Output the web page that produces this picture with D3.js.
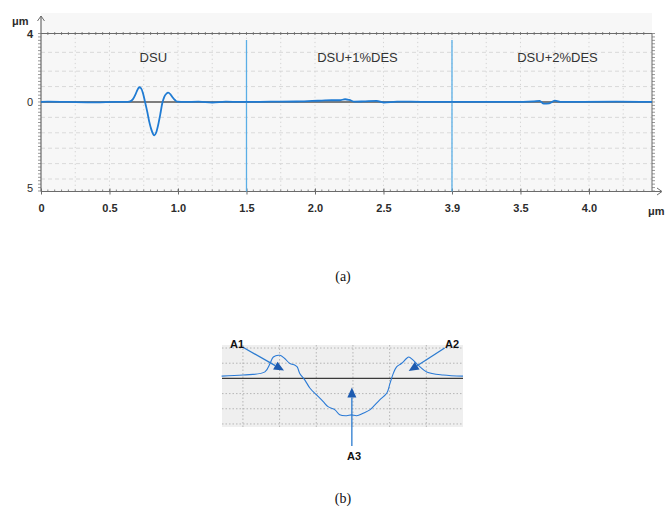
<!DOCTYPE html>
<html>
<head>
<meta charset="utf-8">
<script src="https://cdn.jsdelivr.net/npm/d3@7"></script>
<style>
  html, body { margin: 0; padding: 0; background: #fff; }
  svg { display: block; }
</style>
</head>
<body>
<svg id="fig" width="665" height="513"></svg>
<script>
// ---- (a) surface profile across three coatings ----
const profileX = [0, 0.05, 0.2, 0.4, 0.55, 0.62, 0.645, 0.67, 0.69, 0.705, 0.717, 0.73, 0.745, 0.758, 0.775, 0.79, 0.805, 0.82, 0.828, 0.84, 0.855, 0.87, 0.886, 0.9, 0.915, 0.928, 0.945, 0.96, 0.98, 0.995, 1.05, 1.15, 1.25, 1.35, 1.45, 1.6, 1.75, 1.9, 1.98, 2.05, 2.12, 2.18, 2.22, 2.25, 2.29, 2.35, 2.45, 2.5, 2.6, 2.7, 2.85, 3.0, 3.15, 3.3, 3.45, 3.6, 3.64, 3.67, 3.71, 3.75, 3.8, 3.95, 4.2, 4.46];
const profileY = [0, 0.02, 0, -0.02, 0, 0, 0.02, 0.15, 0.45, 0.72, 0.86, 0.8, 0.5, 0.05, -0.55, -1.15, -1.6, -1.9, -1.95, -1.8, -1.35, -0.75, -0.05, 0.3, 0.48, 0.55, 0.45, 0.28, 0.1, 0.02, 0, 0.02, -0.03, 0.02, 0, 0.01, 0.02, 0.03, 0.06, 0.08, 0.1, 0.1, 0.16, 0.12, 0.02, 0.03, 0.06, -0.03, 0.02, 0.02, 0, 0, 0.01, 0, 0, 0.04, 0.06, -0.1, -0.08, 0.08, 0, 0.01, 0.02, 0];

const xTickValues = [0, 0.5, 1.0, 1.5, 2.0, 2.5, 3.0, 3.5, 4.0];
const xTickLabels = ["0", "0.5", "1.0", "1.5", "2.0", "2.5", "3.9", "3.5", "4.0"];
const yTickValues = [4, 0, -5];
const yTickLabels = ["4", "0", "5"];
const yGridValues = [2.9, 1.8, 0.9, -0.9, -1.8, -2.7, -3.6, -4.5];
const sectionBounds = [1.5, 3.0];
const sectionNames = ["DSU", "DSU+1%DES", "DSU+2%DES"];
const sectionCenters = [0.82, 2.31, 3.77];

// ---- (b) crater cross-section ----
const craterX = [-0.58, 0.01, 0.6, 0.74, 0.83, 1.01, 1.14, 1.28, 1.42, 1.48, 1.55, 1.69, 1.83, 2.01, 2.19, 2.32, 2.51, 2.64, 2.83, 2.96, 3.1, 3.28, 3.46, 3.6, 3.73, 3.92, 4.01, 4.1, 4.19, 4.32, 4.46, 4.52, 4.64, 4.78, 5.01, 5.46, 6.0];
const craterY = [0.15, 0.22, 0.43, 0.98, 1.41, 1.52, 1.31, 0.98, 0.87, 0.76, 0.33, -0.11, -0.65, -1.09, -1.53, -1.86, -2.07, -2.4, -2.46, -2.4, -2.46, -2.29, -2.07, -1.74, -1.41, -0.98, -0.33, 0.33, 0.76, 0.98, 1.31, 1.41, 1.2, 0.87, 0.43, 0.22, 0.15];
const bGridX = [0, 1, 2, 3, 4, 5];
const bGridY = [2, 1, -1, -2, -3];
const markerNames = ["A1", "A2", "A3"];
const markerTails = [[0.0, 2.05], [5.5, 2.0], [2.97, -4.45]];
const markerTips = [[1.12, 0.52], [4.52, 0.48], [2.97, -0.6]];
const captions = ["(a)", "(b)"];

const svg = d3.select("#fig");
const LINE_BLUE = "#1f7bd3";
const AXIS = "#6b6b6b";
const sans = "'Liberation Sans', Arial, sans-serif";
const serif = "'Liberation Serif', 'Times New Roman', serif";

// ================= panel (a) =================
const x = d3.scaleLinear().domain([0, 4.46]).range([41, 652]);
const y = d3.scaleLinear().domain([-5.23, 4]).range([191.5, 33.5]);
const pa = svg.append("g");

pa.append("rect")
  .attr("x", x(0)).attr("y", 13)
  .attr("width", x(4.46) - x(0)).attr("height", y(-5.23) - 13)
  .attr("fill", "#f7f7f7");

// dotted vertical grid every quarter unit
pa.append("g").selectAll("line")
  .data(d3.range(0.25, 4.46, 0.25))
  .join("line")
  .attr("x1", d => x(d)).attr("x2", d => x(d))
  .attr("y1", y(4)).attr("y2", y(-5.23))
  .attr("stroke", "#c9c9c9").attr("stroke-width", 0.8)
  .attr("stroke-dasharray", "1.2,3");

// dashed horizontal grid
pa.append("g").selectAll("line")
  .data(yGridValues)
  .join("line")
  .attr("x1", x(0)).attr("x2", x(4.46))
  .attr("y1", d => y(d)).attr("y2", d => y(d))
  .attr("stroke", "#d2d2d2").attr("stroke-width", 0.8)
  .attr("stroke-dasharray", "4,3");

// frame: top border, right border
pa.append("line").attr("x1", x(0)).attr("x2", x(4.46)).attr("y1", y(4)).attr("y2", y(4))
  .attr("stroke", AXIS).attr("stroke-width", 1.2);
pa.append("line").attr("x1", x(4.46)).attr("x2", x(4.46)).attr("y1", y(4)).attr("y2", y(-5.23))
  .attr("stroke", AXIS).attr("stroke-width", 1);

// minor ticks along top and bottom edges
const minorX = d3.range(0.05, 4.45, 0.05);
pa.append("g").selectAll("line").data(minorX).join("line")
  .attr("x1", d => x(d)).attr("x2", d => x(d))
  .attr("y1", y(4) - 1.5).attr("y2", y(4) + 1.5)
  .attr("stroke", AXIS).attr("stroke-width", 0.8);
pa.append("g").selectAll("line").data(minorX).join("line")
  .attr("x1", d => x(d)).attr("x2", d => x(d))
  .attr("y1", y(-5.23) - 2).attr("y2", y(-5.23))
  .attr("stroke", AXIS).attr("stroke-width", 0.8);

// minor ticks on left and right edges
const minorY = d3.range(-5.2, 4.01, 0.2);
pa.append("g").selectAll("line").data(minorY).join("line")
  .attr("x1", x(0) - 3).attr("x2", x(0))
  .attr("y1", d => y(d)).attr("y2", d => y(d))
  .attr("stroke", AXIS).attr("stroke-width", 0.7);
pa.append("g").selectAll("line").data(minorY).join("line")
  .attr("x1", x(4.46)).attr("x2", x(4.46) + 3)
  .attr("y1", d => y(d)).attr("y2", d => y(d))
  .attr("stroke", AXIS).attr("stroke-width", 0.7);

// bottom axis
const xAxis = d3.axisBottom(x)
  .tickValues(xTickValues)
  .tickFormat((d, i) => xTickLabels[i])
  .tickSize(3).tickPadding(10);
const gx = pa.append("g").attr("transform", `translate(0,${y(-5.23)})`).call(xAxis);
gx.select(".domain").remove();
gx.selectAll(".tick line").attr("stroke", AXIS).attr("y1", -3).attr("y2", 3);
gx.selectAll(".tick text")
  .attr("font-family", sans).attr("font-size", 11).attr("font-weight", "bold")
  .attr("fill", "#2b2b2b");
pa.append("line").attr("x1", x(0)).attr("x2", x(4.46) + 9).attr("y1", y(-5.23)).attr("y2", y(-5.23))
  .attr("stroke", AXIS).attr("stroke-width", 1.2);
pa.append("path")
  .attr("d", `M${x(4.46) + 5},${y(-5.23) - 3.5} L${x(4.46) + 10},${y(-5.23)} L${x(4.46) + 5},${y(-5.23) + 3.5}`)
  .attr("fill", "none").attr("stroke", AXIS).attr("stroke-width", 1);
pa.append("text").attr("x", x(4.46) - 4).attr("y", y(-5.23) + 23)
  .attr("font-family", sans).attr("font-size", 11).attr("font-weight", "bold")
  .attr("fill", "#2b2b2b").text("μm");

// left axis
const yAxis = d3.axisLeft(y)
  .tickValues(yTickValues)
  .tickFormat((d, i) => yTickLabels[i])
  .tickSize(0).tickPadding(8);
const gy = pa.append("g").attr("transform", `translate(${x(0)},0)`).call(yAxis);
gy.select(".domain").remove();
gy.selectAll(".tick text")
  .attr("font-family", sans).attr("font-size", 11)
  .attr("fill", "#2b2b2b");
gy.selectAll(".tick text").filter((d, i) => i === 0).attr("font-weight", "bold");
pa.append("line").attr("x1", x(0)).attr("x2", x(0)).attr("y1", 16).attr("y2", y(-5.23))
  .attr("stroke", AXIS).attr("stroke-width", 1.2);
pa.append("path")
  .attr("d", `M${x(0) - 3.5},21 L${x(0)},16 L${x(0) + 3.5},21`)
  .attr("fill", "none").attr("stroke", AXIS).attr("stroke-width", 1);
pa.append("text").attr("x", 12).attr("y", 25)
  .attr("font-family", sans).attr("font-size", 11).attr("font-weight", "bold")
  .attr("fill", "#2b2b2b").text("μm");

// reference line at zero
pa.append("line").attr("x1", x(0)).attr("x2", x(4.46)).attr("y1", y(0)).attr("y2", y(0))
  .attr("stroke", "#555").attr("stroke-width", 1.4);

// section separators
pa.append("g").selectAll("line").data(sectionBounds).join("line")
  .attr("x1", d => x(d)).attr("x2", d => x(d))
  .attr("y1", 40).attr("y2", y(-5.23))
  .attr("stroke", "#5aaee6").attr("stroke-width", 1.3);

// section names
pa.append("g").selectAll("text").data(sectionNames).join("text")
  .attr("x", (d, i) => x(sectionCenters[i])).attr("y", 62)
  .attr("text-anchor", "middle")
  .attr("font-family", sans).attr("font-size", 13)
  .attr("fill", "#333").text(d => d);

// profile trace
const profile = profileX.map((v, i) => [v, profileY[i]]);
pa.append("path")
  .datum(profile)
  .attr("d", d3.line().x(d => x(d[0])).y(d => y(d[1])).curve(d3.curveMonotoneX))
  .attr("fill", "none").attr("stroke", LINE_BLUE).attr("stroke-width", 1.8);

// ================= panel (b) =================
const bx = d3.scaleLinear().domain([-0.57, 6.0]).range([222, 463]);
const by = d3.scaleLinear().domain([-3.2, 2.2]).range([427, 345]);
const pb = svg.append("g");

pb.append("rect")
  .attr("x", bx(-0.57)).attr("y", by(2.2))
  .attr("width", bx(6.0) - bx(-0.57)).attr("height", by(-3.2) - by(2.2))
  .attr("fill", "#efefef");

pb.append("g").selectAll("line").data(bGridX).join("line")
  .attr("x1", d => bx(d)).attr("x2", d => bx(d))
  .attr("y1", by(2.2)).attr("y2", by(-3.2))
  .attr("stroke", "#a8a8a8").attr("stroke-width", 0.8)
  .attr("stroke-dasharray", "1.5,2");
pb.append("g").selectAll("line").data(bGridY).join("line")
  .attr("x1", bx(-0.57)).attr("x2", bx(6.0))
  .attr("y1", d => by(d)).attr("y2", d => by(d))
  .attr("stroke", "#a8a8a8").attr("stroke-width", 0.8)
  .attr("stroke-dasharray", "1.5,2");

pb.append("line").attr("x1", bx(-0.57)).attr("x2", bx(6.0)).attr("y1", by(0)).attr("y2", by(0))
  .attr("stroke", "#3a3a3a").attr("stroke-width", 1.2);

const crater = craterX.map((v, i) => [v, craterY[i]]);
pb.append("path")
  .datum(crater)
  .attr("d", d3.line().x(d => bx(d[0])).y(d => by(d[1])).curve(d3.curveCatmullRom))
  .attr("fill", "none").attr("stroke", "#2a7ad6").attr("stroke-width", 1.1);

// annotation arrows
markerNames.forEach((name, i) => {
  const [tx, ty] = [bx(markerTails[i][0]), by(markerTails[i][1])];
  const [hx, hy] = [bx(markerTips[i][0]), by(markerTips[i][1])];
  const ang = Math.atan2(hy - ty, hx - tx);
  const len = 10, half = 4.5;
  const bxp = hx - len * Math.cos(ang), byp = hy - len * Math.sin(ang);
  pb.append("line").attr("x1", tx).attr("y1", ty).attr("x2", bxp).attr("y2", byp)
    .attr("stroke", "#2b7bd0").attr("stroke-width", 1.3);
  const p1 = [bxp + half * Math.sin(ang), byp - half * Math.cos(ang)];
  const p2 = [bxp - half * Math.sin(ang), byp + half * Math.cos(ang)];
  pb.append("path")
    .attr("d", `M${hx},${hy} L${p1[0]},${p1[1]} L${p2[0]},${p2[1]} Z`)
    .attr("fill", "#1d5bb0");
});
const labelPos = [[230, 348], [445, 348], [347, 460]];
pb.append("g").selectAll("text").data(markerNames).join("text")
  .attr("x", (d, i) => labelPos[i][0]).attr("y", (d, i) => labelPos[i][1])
  .attr("font-family", sans).attr("font-size", 11).attr("font-weight", "bold")
  .attr("fill", "#111").text(d => d);

// captions
svg.append("text").attr("x", 343).attr("y", 281).attr("text-anchor", "middle")
  .attr("font-family", serif).attr("font-size", 14).attr("fill", "#111").text(captions[0]);
svg.append("text").attr("x", 343).attr("y", 503).attr("text-anchor", "middle")
  .attr("font-family", serif).attr("font-size", 14).attr("fill", "#111").text(captions[1]);
</script>
</body>
</html>
